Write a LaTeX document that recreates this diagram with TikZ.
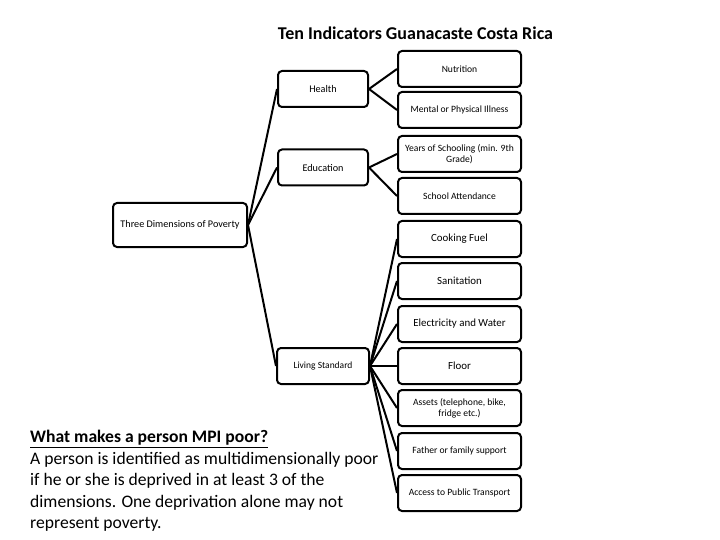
\documentclass[tikz,border=0pt]{standalone}
\usepackage{fontspec}
\setmainfont{Carlito}
\begin{document}
\begin{tikzpicture}[x=1pt,y=-1pt,
  box/.style={draw=black,line width=2pt,rounded corners=4pt,fill=white,align=center,inner sep=1pt},
  lbox/.style={box,minimum width=90pt,minimum height=36pt},
  rbox/.style={box,minimum width=123pt,minimum height=36pt},
  link/.style={line width=2pt}]
\useasboundingbox (0,0) rectangle (720,540);
\node[box,minimum width=134pt,minimum height=44pt,font=\fontsize{10.2}{12}\selectfont] (root) at (180,225) {Three Dimensions of Poverty};
\node[lbox,font=\fontsize{10.2}{12}\selectfont] (health) at (323,89) {Health};
\node[lbox,font=\fontsize{10.2}{12}\selectfont] (edu) at (323,167.5) {Education};
\node[lbox,minimum width=92pt,font=\fontsize{9.5}{11}\selectfont] (live) at (323,366) {Living Standard};
\node[rbox,font=\fontsize{9.6}{11}\selectfont] (nut) at (459.5,69) {Nutrition};
\node[rbox,font=\fontsize{9.6}{11}\selectfont] (ment) at (459.5,110) {Mental or Physical Illness};
\node[rbox,font=\fontsize{9.6}{11}\selectfont] (years) at (459.5,154) {Years of Schooling (min. 9th\\ Grade)};
\node[rbox,font=\fontsize{9.6}{11}\selectfont] (school) at (459.5,196) {School Attendance};
\node[rbox,font=\fontsize{10.9}{13}\selectfont] (cook) at (459.5,239) {Cooking Fuel};
\node[rbox,font=\fontsize{10.9}{13}\selectfont] (san) at (459.5,281) {Sanitation};
\node[rbox,font=\fontsize{10.9}{13}\selectfont] (elec) at (459.5,324) {Electricity and Water};
\node[rbox,font=\fontsize{10.9}{13}\selectfont] (floor) at (459.5,366) {Floor};
\node[rbox,font=\fontsize{9.6}{11}\selectfont] (assets) at (459.5,408) {Assets (telephone, bike,\\ fridge etc.)};
\node[rbox,font=\fontsize{9.6}{11}\selectfont] (father) at (459.5,451) {Father or family support};
\node[rbox,font=\fontsize{9.6}{11}\selectfont] (access) at (459.5,493) {Access to Public Transport};
\foreach \c in {health,edu,live} \draw[link] (root.east) -- (\c.west);
\foreach \c in {nut,ment} \draw[link] (health.east) -- (\c.west);
\foreach \c in {years,school} \draw[link] (edu.east) -- (\c.west);
\foreach \c in {cook,san,elec,floor,assets,father,access} \draw[link] (live.east) -- (\c.west);
\node[font=\bfseries\fontsize{18}{20}\selectfont,inner sep=0pt] (title) at (415.5,33) {Ten Indicators Guanacaste Costa Rica};
\node[anchor=north west,inner sep=0pt,align=left,font=\fontsize{17.6}{21.5}\selectfont] (note) at (30,430)
 {\textbf{\underline{What makes a person MPI poor?}}\\
 A person is identified as multidimensionally poor\\
 if he or she is deprived in at least 3 of the\\
 dimensions. One deprivation alone may not\\
 represent poverty.};
\end{tikzpicture}
\end{document}
